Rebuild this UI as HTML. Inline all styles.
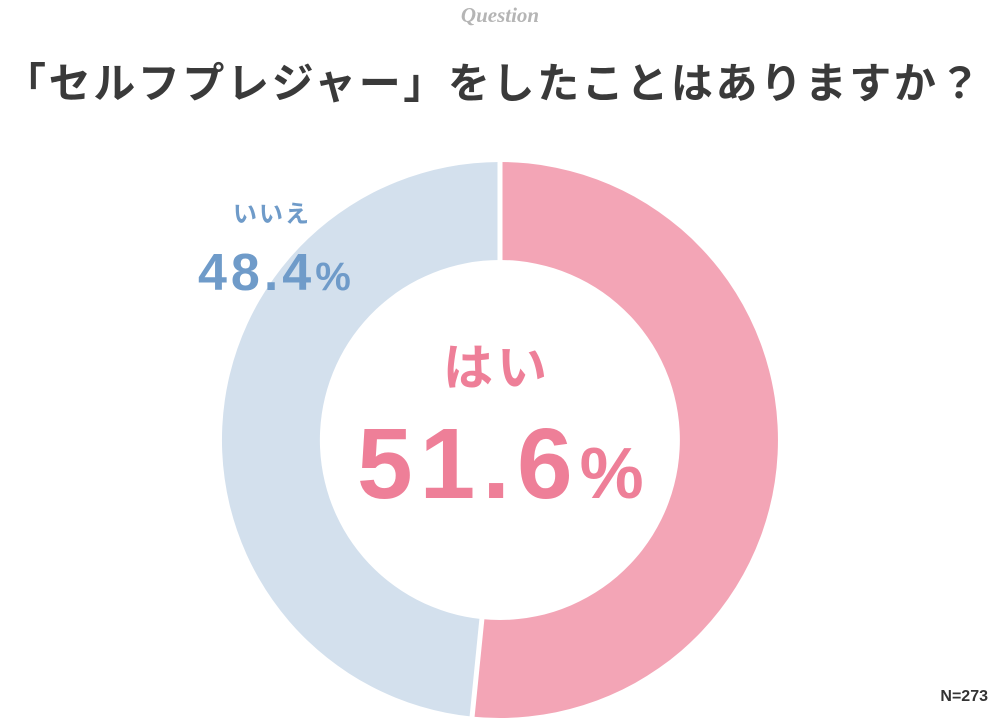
<!DOCTYPE html>
<html><head><meta charset="utf-8"><style>
body{margin:0;width:1000px;height:720px;background:#fff;overflow:hidden;position:relative;font-family:"Liberation Sans","Noto Sans CJK JP",sans-serif}
.q{position:absolute;top:3px;left:0;width:1000px;text-align:center;font-family:"Liberation Serif",serif;font-style:italic;font-weight:bold;color:#b5b5b5;font-size:21px}
.t{position:absolute;top:50px;left:4px;font-size:42px;color:#3a3a3a;font-weight:bold;letter-spacing:2.6px;white-space:nowrap}
.n{position:absolute;right:12px;top:688px;font-size:16px;color:#333;font-weight:bold}
</style></head><body>
<div class="q">Question</div>
<div class="t">「セルフプレジャー」をしたことはありますか？</div>
<svg width="1000" height="720" style="position:absolute;left:0;top:0">
<path d="M500 162 A278 278 0 1 1 472.1 716.6 L481.9 619.1 A180 180 0 1 0 500 260 Z" fill="#f3a5b6"/>
<path d="M472.1 716.6 A278 278 0 0 1 500 162 L500 260 A180 180 0 0 0 481.9 619.1 Z" fill="#d3e0ed"/>
<line x1="500" y1="150" x2="500" y2="270" stroke="#fff" stroke-width="5"/>
<line x1="470.9" y1="728.5" x2="483" y2="608" stroke="#fff" stroke-width="5"/>
<text x="272" y="222" text-anchor="middle" font-size="24" font-weight="bold" fill="#6f9bc9" font-family="Liberation Sans,Noto Sans CJK JP,sans-serif" letter-spacing="2">いいえ</text>
<text x="198" y="290" font-size="52" font-weight="bold" fill="#6f9bc9" font-family="Liberation Sans,sans-serif" letter-spacing="4">48.4<tspan font-size="40" letter-spacing="0">%</tspan></text>
<text x="497" y="385" text-anchor="middle" font-size="50" font-weight="bold" fill="#ee7f98" font-family="Liberation Sans,Noto Sans CJK JP,sans-serif" letter-spacing="4">はい</text>
<text x="357" y="498" font-size="100" font-weight="bold" fill="#ee7f98" font-family="Liberation Sans,sans-serif" letter-spacing="7">51.6<tspan font-size="72" letter-spacing="0">%</tspan></text>
</svg>
<div class="n">N=273</div>
</body></html>
